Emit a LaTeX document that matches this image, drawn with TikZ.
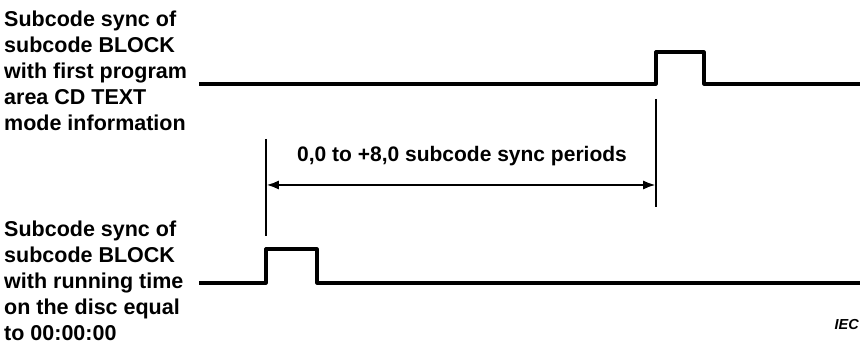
\documentclass[tikz,border=0pt]{standalone}
\usepackage{fontspec}
\setmainfont{Liberation Sans}
\usetikzlibrary{arrows.meta, positioning}

\begin{document}
\begin{tikzpicture}[
  x=1pt, y=-1pt,
  caption/.style={anchor=north west, align=left, inner sep=0pt,
    font=\bfseries\fontsize{21.5}{26}\selectfont},
  signal/.style={line width=3.2pt, line join=round},
  marker/.style={line width=2.8pt},
  span/.style={{Latex[length=4.5mm, width=3.2mm]}-{Latex[length=4.5mm, width=3.2mm]}, line width=2.8pt}
]
\useasboundingbox (0,0) rectangle (860,352);

% left captions
\node[caption] (textsync) at (4,11) {Subcode sync of\\subcode BLOCK\\with first program\\area CD TEXT\\mode information};
\node[caption] (timesync) at (4,221) {Subcode sync of\\subcode BLOCK\\with running time\\on the disc equal\\to 00:00:00};

% upper signal
\coordinate (u0) at (199,84);
\coordinate (urise) at (656,84);
\coordinate (ufall) at (704,84);
\coordinate (u1) at (860,84);
\draw[signal] (u0) -- (urise) -- ++(0,-32) -| (ufall) -- (u1);

% lower signal
\coordinate (l0) at (199,283);
\coordinate (lrise) at (266,283);
\coordinate (lfall) at (317,283);
\coordinate (l1) at (860,283);
\draw[signal] (l0) -- (lrise) -- ++(0,-34) -| (lfall) -- (l1);

% markers and span
\coordinate (ltop) at (266,139);
\coordinate (lbot) at (266,236);
\coordinate (rtop) at (656,99);
\coordinate (rbot) at (656,207);
\draw[marker] (ltop) -- (lbot);
\draw[marker] (rtop) -- (rbot);
\coordinate (sleft) at (266,185);
\coordinate (sright) at (656,185);
\draw[span] (sleft) -- (sright);
\node[anchor=base, inner sep=0pt, font=\bfseries\fontsize{21}{24}\selectfont] (periods) at (462,162) {0,0 to +8,0 subcode sync periods};

\node[anchor=base east, inner sep=0pt, font=\bfseries\itshape\fontsize{14.5}{17}\selectfont] (iec) at (859,330) {IEC};
\end{tikzpicture}
\end{document}
